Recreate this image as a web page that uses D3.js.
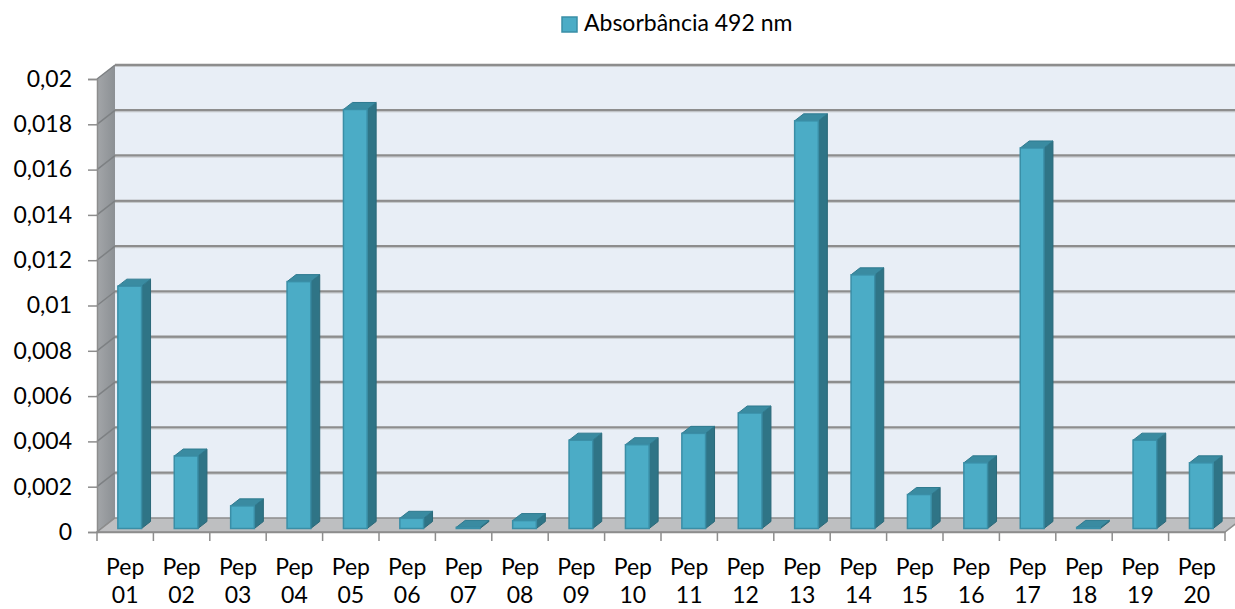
<!DOCTYPE html>
<html>
<head>
<meta charset="utf-8">
<script src="https://cdn.jsdelivr.net/npm/d3@7"></script>
<style>
  html, body { margin: 0; padding: 0; background: #ffffff; }
  svg { display: block; font-family: Lato, "Open Sans", sans-serif; }
</style>
</head>
<body>
<svg id="chart" width="1235" height="609"></svg>
<script>
const categories = ["Pep 01","Pep 02","Pep 03","Pep 04","Pep 05","Pep 06","Pep 07","Pep 08","Pep 09","Pep 10",
                    "Pep 11","Pep 12","Pep 13","Pep 14","Pep 15","Pep 16","Pep 17","Pep 18","Pep 19","Pep 20"];
const seriesName = "Absorbância 492 nm";
const absorbance = [0.0107, 0.0032, 0.0010, 0.0109, 0.0185, 0.00045, 0.00005, 0.00035, 0.0039, 0.0037,
                    0.0042, 0.0051, 0.0180, 0.0112, 0.0015, 0.0029, 0.0168, 0.00005, 0.0039, 0.0029];
const yTicks = [0, 0.002, 0.004, 0.006, 0.008, 0.01, 0.012, 0.014, 0.016, 0.018, 0.02];

(function () {
const svg = d3.select("#chart");
const pLeft = 97, pRight = 1225, pBottom = 532, pTop = 79;
const DX = 18, DY = -14;          // wall depth offset
const BZ0 = 0.25, BZ = 0.5;       // bar depth start / size (fraction of depth)
const FS = 23;

const x = d3.scaleBand().domain(categories).range([pLeft, pRight]).padding(0);
const y = d3.scaleLinear().domain([0, 0.02]).range([pBottom, pTop]);
const fmt = v => v === 0 ? "0" : String(+v.toFixed(3)).replace(".", ",");

// Back wall
svg.append("rect")
  .attr("x", pLeft + DX).attr("y", pTop + DY)
  .attr("width", 1300).attr("height", pBottom - pTop)
  .attr("fill", "#e8eef6");

// Left side wall
const defs = svg.append("defs");
const lg = defs.append("linearGradient").attr("id", "lw").attr("x1", "0").attr("x2", "1").attr("y1", "0").attr("y2", "0");
lg.append("stop").attr("offset", "0").attr("stop-color", "#a3a6a9");
lg.append("stop").attr("offset", "1").attr("stop-color", "#8c9094");
svg.append("polygon")
  .attr("points", [[pLeft, pBottom], [pLeft, pTop], [pLeft + DX, pTop + DY], [pLeft + DX, pBottom + DY]].join(" "))
  .attr("fill", "url(#lw)");

// Gridlines on back and side walls
const grid = svg.append("g");
yTicks.forEach(t => {
  const yy = y(t);
  if (t > 0) {
    grid.append("line").attr("x1", pLeft + DX).attr("x2", 1300)
      .attr("y1", yy + DY).attr("y2", yy + DY)
      .attr("stroke", "#8d8d8d").attr("stroke-width", 2.5);
    grid.append("line").attr("x1", pLeft + DX).attr("x2", 1300)
      .attr("y1", yy + DY + 1.5).attr("y2", yy + DY + 1.5)
      .attr("stroke", "#c4c7ca").attr("stroke-width", 1);
  }
  grid.append("line").attr("x1", pLeft).attr("x2", pLeft + DX)
    .attr("y1", yy).attr("y2", yy + DY)
    .attr("stroke", "#7d8083").attr("stroke-width", 1.5);
});

// Floor
svg.append("polygon")
  .attr("points", [[pLeft, pBottom], [pRight, pBottom], [pRight + DX, pBottom + DY], [pLeft + DX, pBottom + DY]].join(" "))
  .attr("fill", "#bebfc1").attr("stroke", "#8d8d8d").attr("stroke-width", 1.5);

// Bars
const bw = x.bandwidth() * 0.42;
const bdx = DX * BZ, bdy = DY * BZ;
const zx = DX * BZ0, zy = DY * BZ0;
const bars = svg.append("g");
categories.forEach((c, i) => {
  const v = absorbance[i];
  const cx = x(c) + x.bandwidth() / 2 + zx;
  const x0 = cx - bw / 2, x1 = cx + bw / 2;
  const yb = y(0) + zy, yt = y(v) + zy;
  const g = bars.append("g");
  g.append("polygon")
    .attr("points", [[x1, yb], [x1 + bdx, yb + bdy], [x1 + bdx, yt + bdy], [x1, yt]].join(" "))
    .attr("fill", "#2f7486").attr("stroke", "#2a6878").attr("stroke-width", 1);
  g.append("polygon")
    .attr("points", [[x0, yt], [x0 + bdx, yt + bdy], [x1 + bdx, yt + bdy], [x1, yt]].join(" "))
    .attr("fill", "#3a8ba1").attr("stroke", "#2f7a8f").attr("stroke-width", 1);
  g.append("rect")
    .attr("x", x0).attr("y", yt).attr("width", bw).attr("height", Math.max(0, yb - yt))
    .attr("fill", "#4bacc6").attr("stroke", "#3a8ea6").attr("stroke-width", 1.5);
});

// Axes
const yAxis = d3.axisLeft(y).tickValues(yTicks).tickFormat(fmt).tickSize(9).tickPadding(16);
const ya = svg.append("g").attr("transform", `translate(${pLeft},0)`).call(yAxis);
ya.select(".domain").attr("stroke", "#8d8d8d").attr("stroke-width", 1.5);
ya.selectAll(".tick line").attr("stroke", "#8d8d8d").attr("stroke-width", 1.5);
ya.selectAll(".tick text").attr("font-size", FS).attr("fill", "#000").attr("font-family", "Lato, sans-serif");

const xAxis = d3.axisBottom(x).tickSize(0).tickFormat("");
const xa = svg.append("g").attr("transform", `translate(0,${pBottom})`).call(xAxis);
xa.select(".domain").attr("stroke", "#8d8d8d").attr("stroke-width", 1.5);
const bounds = categories.map(c => x(c)).concat([pRight]);
xa.selectAll(".bt").data(bounds).enter().append("line")
  .attr("x1", d => d).attr("x2", d => d).attr("y1", 0).attr("y2", 9)
  .attr("stroke", "#8d8d8d").attr("stroke-width", 1.5);
xa.selectAll(".tick").each(function(d) {
  const parts = d.split(" ");
  const t = d3.select(this).append("text").attr("fill", "#000").attr("font-size", FS)
    .attr("font-family", "Lato, sans-serif").attr("text-anchor", "middle");
  t.append("tspan").attr("x", 0).attr("y", 43).text(parts[0]);
  t.append("tspan").attr("x", 0).attr("y", 71).text(parts[1]);
});

// Legend
const leg = svg.append("g");
leg.append("rect").attr("x", 562).attr("y", 17).attr("width", 15).attr("height", 15)
  .attr("fill", "#4bacc6").attr("stroke", "#3a8ea6").attr("stroke-width", 1.5);
leg.append("text").attr("x", 584).attr("y", 31).attr("font-size", FS).attr("fill", "#000")
  .attr("font-family", "Lato, sans-serif").text(seriesName);
})();
</script>
</body>
</html>
